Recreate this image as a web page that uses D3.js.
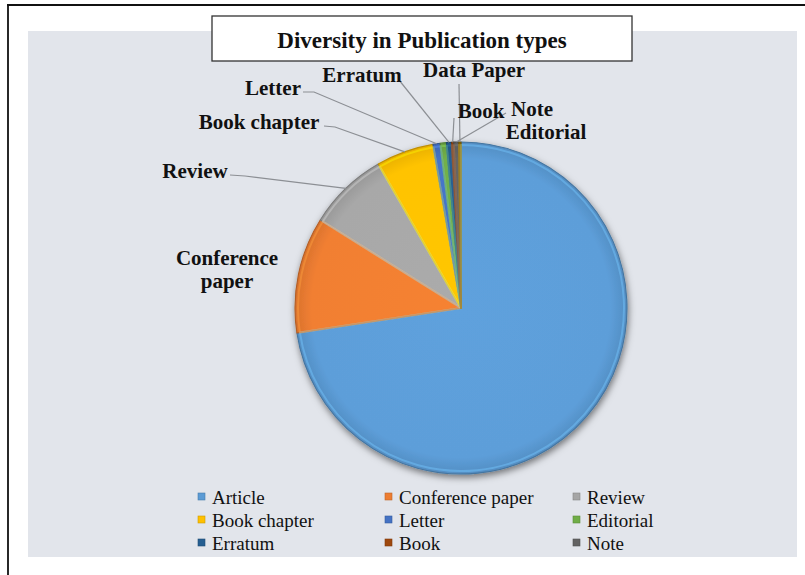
<!DOCTYPE html>
<html>
<head>
<meta charset="utf-8">
<script src="https://cdn.jsdelivr.net/npm/d3@7"></script>
<style>
  html, body { margin: 0; padding: 0; background: #ffffff; }
  svg { display: block; }
</style>
</head>
<body>
<svg id="chart" width="805" height="575"></svg>
<script>
// ---- Data (shares in %) ----
const categories = ["Article", "Conference paper", "Review", "Book chapter", "Letter",
                    "Editorial", "Erratum", "Book", "Note", "Data Paper"];
const shares = [72.6, 11.3, 7.8, 5.6, 0.7, 0.6, 0.5, 0.2, 0.5, 0.2];
const colors = ["#5B9BD5", "#ED7D31", "#A5A5A5", "#FFC000", "#4472C4",
                "#70AD47", "#255E91", "#9E480E", "#636363", "#997300"];
const legendItems = ["Article", "Conference paper", "Review", "Book chapter", "Letter",
                     "Editorial", "Erratum", "Book", "Note"];
const titleText = "Diversity in Publication types";

// ---- Layout ----
const W = 805, H = 575;
const cx = 461, cy = 308, R = 166;
const serif = "'Liberation Serif', 'Times New Roman', serif";

// label layout: text lines, centre x, baselines, leader start points (elbow)
const labelLayout = {
  "Article": null,
  "Conference paper": { x: 227, lines: ["Conference", "paper"], y: [265, 288], leader: null },
  "Review": { x: 195, lines: ["Review"], y: [178], leader: [[230, 175], [245, 176]] },
  "Book chapter": { x: 259, lines: ["Book chapter"], y: [129], leader: [[324, 126], [335, 127]] },
  "Letter": { x: 273, lines: ["Letter"], y: [95], leader: [[303, 92], [314, 92]] },
  "Editorial": { x: 546, lines: ["Editorial"], y: [139], leader: null },
  "Erratum": { x: 362, lines: ["Erratum"], y: [82], leader: [[399, 80]] },
  "Book": { x: 481, lines: ["Book"], y: [118], leader: [[454, 118]] },
  "Note": { x: 532, lines: ["Note"], y: [116], leader: [[506, 113]] },
  "Data Paper": { x: 474, lines: ["Data Paper"], y: [77], leader: [[459, 84]] }
};

const svg = d3.select("#chart");
const defs = svg.append("defs");

// frame lines (top and left)
svg.append("line").attr("x1", 7).attr("y1", 5).attr("x2", W).attr("y2", 5)
  .attr("stroke", "#111").attr("stroke-width", 1.8);
svg.append("line").attr("x1", 8).attr("y1", 5).attr("x2", 8).attr("y2", H)
  .attr("stroke", "#111").attr("stroke-width", 1.8);

// chart area background
svg.append("rect").attr("x", 28).attr("y", 31).attr("width", 769).attr("height", 526)
  .attr("fill", "#e2e5eb");

// shadow filter
const f = defs.append("filter").attr("id", "shadow")
  .attr("x", "-20%").attr("y", "-20%").attr("width", "140%").attr("height", "140%");
f.append("feDropShadow").attr("dx", 1).attr("dy", 3).attr("stdDeviation", 3.5)
  .attr("flood-color", "#000").attr("flood-opacity", 0.5);

// gradients per slice (bevel-ish look), centred on the pie's local origin
colors.forEach((c, i) => {
  const g = defs.append("radialGradient").attr("id", "grad" + i)
    .attr("gradientUnits", "userSpaceOnUse")
    .attr("cx", 0).attr("cy", 0).attr("r", R);
  g.append("stop").attr("offset", "0%").attr("stop-color", d3.color(c).brighter(0.1));
  g.append("stop").attr("offset", "90%").attr("stop-color", d3.color(c).brighter(0.05));
  g.append("stop").attr("offset", "100%").attr("stop-color", d3.color(c).darker(0.25));
});

const pie = d3.pie().sort(null).value(d => d.v).startAngle(0).endAngle(2 * Math.PI);
const data = categories.map((n, i) => ({ name: n, v: shares[i], i }));
const arcs = pie(data);

const arc = d3.arc().innerRadius(0).outerRadius(R);
const arcInner = d3.arc().innerRadius(0).outerRadius(R - 3);
const edgeArc = d3.arc().innerRadius(R).outerRadius(R);

const pieG = svg.append("g").attr("transform", `translate(${cx},${cy})`);
const shadowG = pieG.append("g").attr("filter", "url(#shadow)");
shadowG.selectAll("path.base").data(arcs).join("path")
  .attr("class", "base")
  .attr("d", arc)
  .attr("fill", d => `url(#grad${d.data.i})`)
  .attr("stroke", d => d3.color(colors[d.data.i]).darker(0.8))
  .attr("stroke-width", 1.1)
  .attr("stroke-linejoin", "round");

// inner highlight (bevel)
pieG.selectAll("path.hl").data(arcs).join("path")
  .attr("class", "hl")
  .attr("d", arcInner)
  .attr("fill", "none")
  .attr("stroke", d => d3.color(colors[d.data.i]).brighter(0.7))
  .attr("stroke-opacity", 0.45)
  .attr("stroke-width", 2)
  .attr("stroke-linejoin", "round");

// leader lines
const leaderG = svg.append("g");
arcs.forEach(d => {
  const L = labelLayout[d.data.name];
  if (!L || !L.leader) return;
  const c = edgeArc.centroid(d);
  const pts = L.leader.concat([[cx + c[0], cy + c[1]]]);
  leaderG.append("path")
    .attr("d", d3.line()(pts))
    .attr("fill", "none")
    .attr("stroke", "#8c8f94")
    .attr("stroke-width", 1.2);
});

// data labels
const labG = svg.append("g")
  .attr("font-family", serif).attr("font-weight", "bold")
  .attr("font-size", 21).attr("fill", "#111").attr("text-anchor", "middle");
categories.forEach(n => {
  const L = labelLayout[n];
  if (!L) return;
  L.lines.forEach((t, k) => {
    labG.append("text").attr("x", L.x).attr("y", L.y[k]).text(t);
  });
});

// title box
svg.append("rect").attr("x", 212).attr("y", 16).attr("width", 420).attr("height", 45)
  .attr("fill", "#ffffff").attr("stroke", "#333").attr("stroke-width", 1.3);
svg.append("text").attr("x", 422).attr("y", 48)
  .attr("text-anchor", "middle").attr("font-family", serif)
  .attr("font-weight", "bold").attr("font-size", 23).attr("fill", "#111")
  .text(titleText);

// legend
const colX = [198, 385, 573];
const rowY = [504, 527, 550];
const legG = svg.append("g").attr("font-family", serif).attr("font-size", 19).attr("fill", "#111");
legendItems.forEach((n, k) => {
  const i = categories.indexOf(n);
  const x = colX[k % 3], y = rowY[Math.floor(k / 3)];
  legG.append("rect").attr("x", x).attr("y", y - 11).attr("width", 7).attr("height", 7)
    .attr("fill", colors[i]).attr("stroke", d3.color(colors[i]).darker(0.6)).attr("stroke-width", 0.6);
  legG.append("text").attr("x", x + 14).attr("y", y).text(n);
});
</script>
</body>
</html>
